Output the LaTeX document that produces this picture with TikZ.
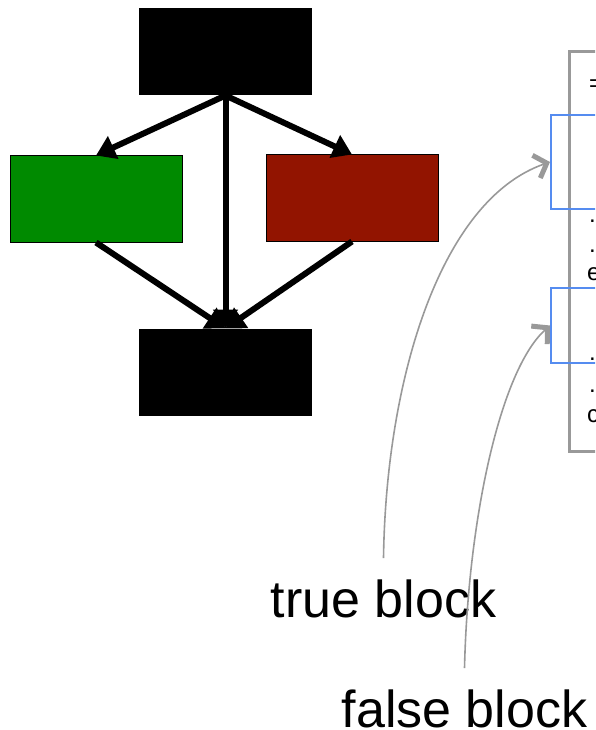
\documentclass[tikz,border=0pt]{standalone}
\usepackage{fontspec}
\setmainfont{Liberation Sans}
\usepackage{tikz}
\usetikzlibrary{positioning,arrows.meta}

\definecolor{truegreen}{RGB}{0,138,0}
\definecolor{falsered}{RGB}{146,20,0}
\definecolor{listgray}{RGB}{153,153,153}
\definecolor{blockblue}{RGB}{85,140,240}

\begin{document}
\begin{tikzpicture}[x=1pt,y=-1pt,on grid,
    block/.style={rectangle,draw=black,line width=1pt,minimum width=172pt,minimum height=86pt,inner sep=0pt},
    flow/.style={line width=6pt,-{Triangle[length=19pt,width=24pt]}},
    pointer/.style={listgray,line width=1.6pt,-{Straight Barb[length=11pt,width=24pt,line width=5pt]}},
    blocklabel/.style={font=\fontsize{52}{52}\selectfont,inner xsep=0pt,inner ysep=21pt,anchor=base},
    codeline/.style={font=\fontsize{24}{24}\selectfont,inner sep=0pt,anchor=base west}]
  \useasboundingbox (0,0) rectangle (595,730);
  \clip (0,0) rectangle (595,730);

  % control flow graph
  \node[block,fill=black] (cond) at (225.5,52) {};
  \node[block,fill=truegreen] (thenblk) [below left=147pt and 129.5pt of cond] {};
  \node[block,fill=falsered] (elseblk) [below right=146pt and 126.5pt of cond] {};
  \node[block,fill=black] (join) [below=320pt of cond] {};
  \path[flow]
    (cond.south) edge (thenblk.north)
                 edge (join.north)
                 edge (elseblk.north)
    (thenblk.south) edge (join.north)
    (elseblk.south) edge (join.north);

  % source listing
  \node[draw=listgray,line width=3pt,minimum width=300pt,minimum height=400pt,anchor=north west] (listing) at (568,50) {};
  \node[codeline] (l1) at (589,92) {=};
  \node[codeline] (l2) at (589,222) {.};
  \node[codeline] (l3) at (589,252) {.};
  \node[codeline] (l4) at (587,280) {e};
  \node[codeline] (l5) at (589,360) {.};
  \node[codeline] (l6) at (589,392) {.};
  \node[codeline] (l7) at (587,422) {c};
  \node[draw=blockblue,line width=2pt,minimum width=200pt,minimum height=94pt,anchor=west] (trueblk) at (550,162) {};
  \node[draw=blockblue,line width=2pt,minimum width=200pt,minimum height=75pt,anchor=west] (falseblk) at (550,325.5) {};

  % labels
  \node[blocklabel] (truelbl) at (383.5,617) {true block};
  \node[blocklabel] (falselbl) at (464.5,727) {false block};
  \draw[pointer] (truelbl.north) .. controls (386,380) and (440,200) .. (trueblk.west);
  \draw[pointer] (falselbl.north) .. controls (468,520) and (500,370) .. (falseblk.west);
\end{tikzpicture}
\end{document}
